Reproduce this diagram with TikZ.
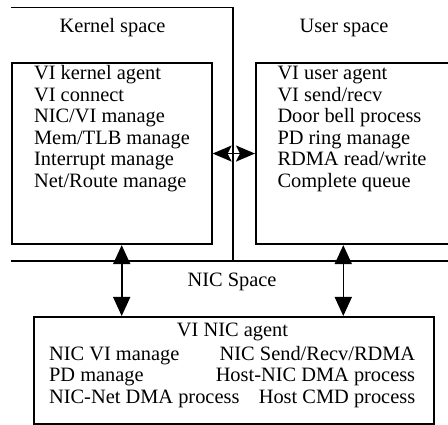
\documentclass[tikz,border=0pt]{standalone}
\usepackage{fontspec}
\setmainfont{Liberation Serif}
\usetikzlibrary{arrows.meta}
\tikzset{
  lbl/.style={anchor=base west},
  rbl/.style={anchor=base east},
  cbl/.style={anchor=base},
  spacebox/.style={draw,anchor=north west},
  vdbl/.style={{Triangle[length=19pt,width=17pt]}-{Triangle[length=19pt,width=17pt]}},
  hdbl/.style={{Stealth[length=19pt,width=16pt,inset=4pt]}-{Stealth[length=19pt,width=16pt,inset=4pt]}}
}
\begin{document}
\begin{tikzpicture}[x=1pt,y=-1pt,line width=1.6pt,
  every node/.style={font=\fontsize{20.4}{21.5}\selectfont,inner sep=0pt}]
\useasboundingbox (0,0) rectangle (448,425);
% frame lines
\coordinate (topL) at (11,7.5);
\coordinate (topR) at (233,7.5);
\coordinate (midB) at (233,261);
\coordinate (busL) at (11,261);
\coordinate (busR) at (448,261);
\draw (topL) -- (topR) -- (midB);
\draw (busL) -- (busR);
% titles
\node[cbl] (kernelT) at (112.5,33) {Kernel space};
\node[cbl] (userT) at (344,33) {User space};
\node[cbl] (nicT) at (232,287) {NIC Space};
% boxes
\node[spacebox,minimum width=200,minimum height=181.5] (kernel) at (11,62) {};
\node[spacebox,minimum width=193,minimum height=181.5] (user) at (255,62) {};
\node[spacebox,minimum width=400,minimum height=107] (nic) at (33,316) {};
% kernel space
\node[lbl] (k1) at (33.3,80) {VI kernel agent};
\node[lbl] (k2) at (33.3,101.5) {VI connect};
\node[lbl] (k3) at (33.3,123) {NIC/VI manage};
\node[lbl] (k4) at (33.3,144.5) {Mem/TLB manage};
\node[lbl] (k5) at (33.3,166) {Interrupt manage};
\node[lbl] (k6) at (33.3,187.5) {Net/Route manage};
% user space
\node[lbl] (u1) at (276.7,80) {VI user agent};
\node[lbl] (u2) at (276.7,101.5) {VI send/recv};
\node[lbl] (u3) at (276.7,123) {Door bell process};
\node[lbl] (u4) at (276.7,144.5) {PD ring manage};
\node[lbl] (u5) at (276.7,166) {RDMA read/write};
\node[lbl] (u6) at (276.7,187.5) {Complete queue};
% NIC space
\node[cbl] (n0) at (232.5,337) {VI NIC agent};
\node[lbl] (n1) at (48.3,361) {NIC VI manage};
\node[rbl] (n2) at (416,361) {NIC Send/Recv/RDMA};
\node[lbl] (n3) at (48.3,382) {PD manage};
\node[rbl] (n4) at (416,382) {Host-NIC DMA process};
\node[lbl] (n5) at (48.3,403) {NIC-Net DMA process};
\node[rbl] (n6) at (416,403) {Host CMD process};
% arrows
\draw[hdbl] (kernel.east) -- (user.west);
\draw[vdbl] ([xshift=110.7pt]kernel.south west) -- ([xshift=88.7pt]nic.north west);
\draw[vdbl] ([xshift=88.3pt]user.south west) -- ([xshift=310.3pt]nic.north west);
\end{tikzpicture}
\end{document}
